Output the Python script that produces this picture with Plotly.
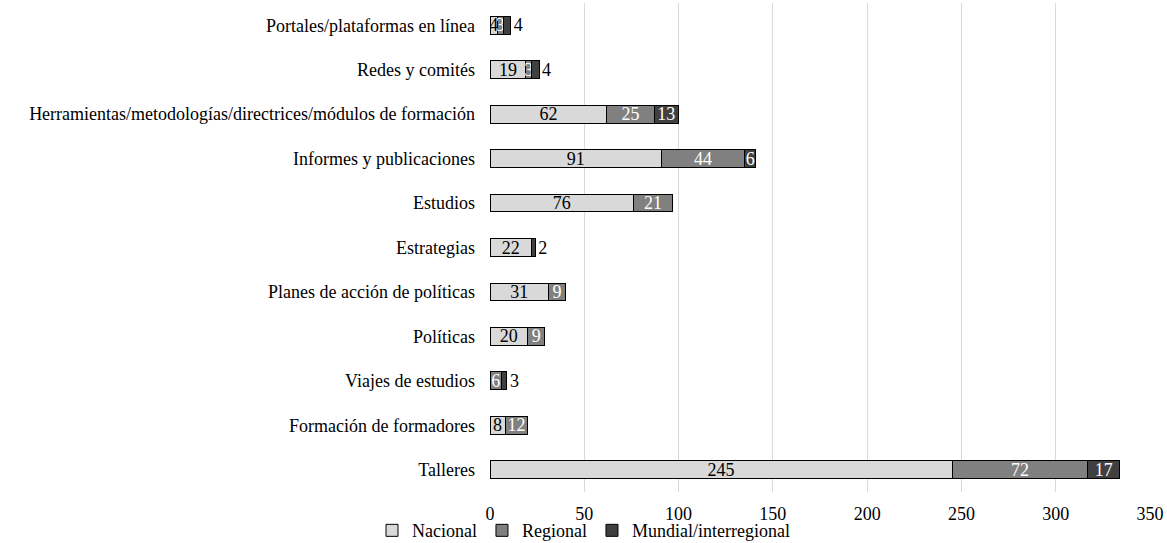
import plotly.graph_objects as go

categories = [
    "Talleres",
    "Formación de formadores",
    "Viajes de estudios",
    "Políticas",
    "Planes de acción de políticas",
    "Estrategias",
    "Estudios",
    "Informes y publicaciones",
    "Herramientas/metodologías/directrices/módulos de formación",
    "Redes y comités",
    "Portales/plataformas en línea",
]
nacional = [245, 8, None, 20, 31, 22, 76, 91, 62, 19, 4]
regional = [72, 12, 6, 9, 9, None, 21, 44, 25, 3, 3]
mundial = [17, None, 3, None, None, 2, None, 6, 13, 4, 4]
x_ticks = [0, 50, 100, 150, 200, 250, 300, 350]

FONT = "Liberation Serif, Times New Roman, serif"
FS = 18


def labels(vals):
    return ["" if v is None else str(v) for v in vals]


fig = go.Figure()
fig.add_trace(go.Bar(
    y=categories, x=nacional, name="Nacional", orientation="h",
    marker=dict(color="#d9d9d9", line=dict(color="#000000", width=1)),
    text=labels(nacional), textposition="inside", insidetextanchor="middle",
    textangle=0,
    insidetextfont=dict(family=FONT, size=FS, color="#000000"),
))
fig.add_trace(go.Bar(
    y=categories, x=regional, name="Regional", orientation="h",
    marker=dict(color="#808080", line=dict(color="#000000", width=1)),
    text=labels(regional), textposition="inside", insidetextanchor="middle",
    textangle=0,
    insidetextfont=dict(family=FONT, size=FS, color="#ffffff"),
))
fig.add_trace(go.Bar(
    y=categories, x=mundial, name="Mundial/interregional", orientation="h",
    marker=dict(color="#404040", line=dict(color="#000000", width=1)),
    text=labels(mundial),
    textposition=["outside" if (v is not None and v < 5) else "inside" for v in mundial],
    insidetextanchor="middle", textangle=0,
    insidetextfont=dict(family=FONT, size=FS, color="#ffffff"),
    outsidetextfont=dict(family=FONT, size=FS, color="#000000"),
    cliponaxis=False,
))

fig.update_layout(
    barmode="stack",
    bargap=0.6,
    width=1167, height=543,
    margin=dict(l=490, r=17, t=3, b=51, autoexpand=False),
    paper_bgcolor="#ffffff", plot_bgcolor="#ffffff",
    font=dict(family=FONT, size=FS, color="#000000"),
    uniformtext=dict(minsize=FS, mode="show"),
    showlegend=True,
    legend=dict(
        orientation="h", xref="container", yref="paper",
        x=0.5, xanchor="center", y=-0.079, yanchor="middle",
        bgcolor="rgba(0,0,0,0)",
        font=dict(family=FONT, size=FS, color="#000000"),
        traceorder="normal", itemwidth=30, tracegroupgap=0,
    ),
)
fig.update_xaxes(
    range=[0, 350], tickvals=x_ticks, showgrid=True, gridcolor="#d9d9d9",
    gridwidth=1, zeroline=False, showline=False, ticks="",
    ticklabelstandoff=9, automargin=False,
    tickfont=dict(family=FONT, size=FS, color="#000000"),
)
fig.update_yaxes(
    categoryorder="array", categoryarray=categories, showgrid=False,
    showline=False, ticks="", ticklabelstandoff=14, automargin=False,
    tickfont=dict(family=FONT, size=FS, color="#000000"),
)

fig.write_html(
    "out.html",
    config={"displayModeBar": False},
    post_script="document.body.style.margin='0px';",
)
